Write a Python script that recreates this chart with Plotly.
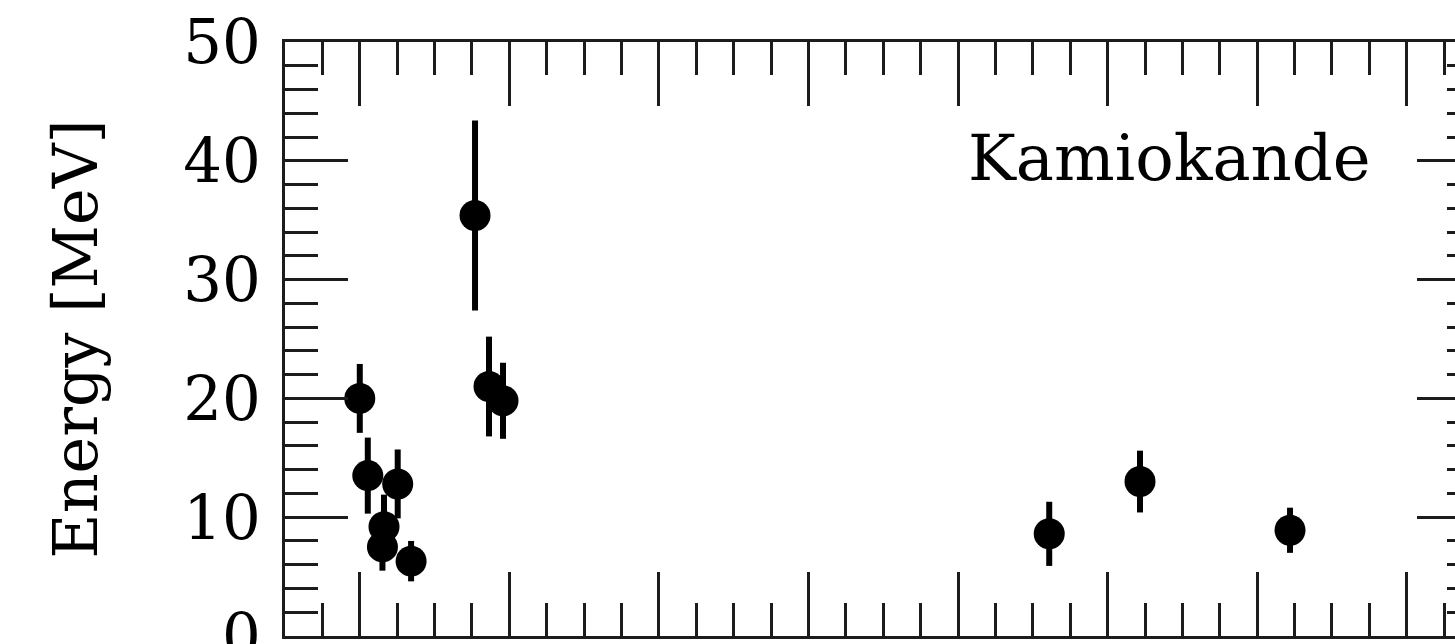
import plotly.graph_objects as go

# Kamiokande-II neutrino events from SN 1987A
time_s = [0.000, 0.107, 0.303, 0.324, 0.507, 0.686, 1.541, 1.728, 1.915, 9.219, 10.433, 12.439]
energy_mev = [20.0, 13.5, 7.5, 9.2, 12.8, 6.3, 35.4, 21.0, 19.8, 8.6, 13.0, 8.9]
energy_err = [2.9, 3.2, 2.0, 2.7, 2.9, 1.7, 8.0, 4.2, 3.2, 2.7, 2.6, 1.9]

y_ticks = [0, 10, 20, 30, 40, 50]
detector_label = "Kamiokande"

FONT = "DejaVu Serif"
AX = "#1c1c1c"

fig = go.Figure()

fig.add_trace(go.Scatter(
    x=time_s, y=energy_mev, mode="markers",
    marker=dict(color="black", size=31, line=dict(width=0)),
    error_y=dict(type="data", array=energy_err, visible=True,
                 color="black", thickness=6, width=0),
    showlegend=False, hoverinfo="x+y",
))

# empty trace so the right-hand tick axis is drawn
fig.add_trace(go.Scatter(x=[], y=[], yaxis="y2", showlegend=False))

fig.update_layout(
    width=1455, height=644,
    margin=dict(l=285, r=0, t=42, b=8),
    paper_bgcolor="white", plot_bgcolor="white",
    font=dict(family=FONT, color="black", size=61),
    xaxis=dict(
        range=[-1, 14.645], dtick=2, tick0=0,
        ticks="inside", ticklen=64, tickwidth=2.5, tickcolor=AX,
        minor=dict(dtick=0.5, tick0=0, ticks="inside", ticklen=33,
                   tickwidth=2.5, tickcolor=AX),
        showline=True, linewidth=3, linecolor=AX, mirror="ticks",
        showgrid=False, zeroline=False, automargin=False,
        showticklabels=False,
    ),
    yaxis=dict(
        range=[0, 50], tickvals=y_ticks,
        ticks="inside", ticklen=63, tickwidth=2.5, tickcolor=AX,
        minor=dict(dtick=2, tick0=0, ticks="inside", ticklen=33,
                   tickwidth=2.5, tickcolor=AX),
        showline=True, linewidth=3, linecolor=AX,
        showgrid=False, zeroline=False, automargin=False,
        tickfont=dict(family=FONT, size=61),
        ticklabelstandoff=9, ticklabeloverflow="allow",
        title=dict(text="Energy [MeV]", font=dict(family=FONT, size=62), standoff=66),
    ),
    yaxis2=dict(
        overlaying="y", side="right", anchor="x",
        range=[0, 50], tickvals=y_ticks,
        ticks="inside", ticklen=38, tickwidth=2.5, tickcolor=AX,
        minor=dict(dtick=2, tick0=0, ticks="inside", ticklen=8,
                   tickwidth=2.5, tickcolor=AX),
        showticklabels=False, showline=False, automargin=False,
        showgrid=False, zeroline=False,
    ),
    annotations=[dict(
        text=detector_label, x=13.55, y=40.2, xref="x", yref="y",
        xanchor="right", yanchor="middle", showarrow=False,
        font=dict(family=FONT, size=64, color="black"),
    )],
)

fig.write_html("out.html")
